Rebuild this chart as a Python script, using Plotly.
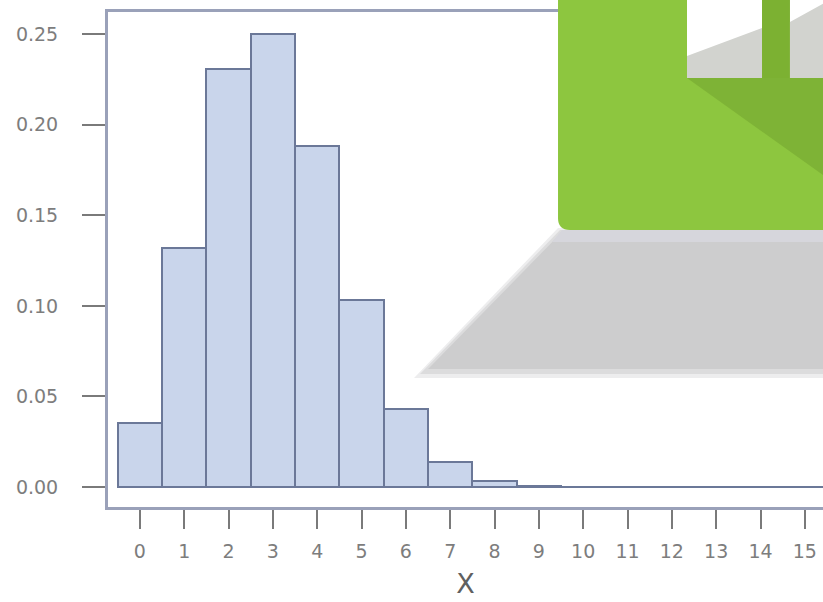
import plotly.graph_objects as go

# ---- data ----
x_values = list(range(16))
probabilities = [0.0352, 0.132, 0.231, 0.250, 0.188, 0.103, 0.043, 0.0138,
                 0.0035, 0.0007, 0.0001, 0.00003, 0.00003, 0.00003, 0.00003, 0.00003]
x_tick_labels = [str(v) for v in x_values]
y_tick_values = [0.00, 0.05, 0.10, 0.15, 0.20, 0.25]
y_tick_labels = ["0.00", "0.05", "0.10", "0.15", "0.20", "0.25"]
x_title = "X"

W, H = 823, 602
L, T, R, B = 108, 12, 0, 95
pw, ph = W - L - R, H - T - B


def px(x):
    return (x - L) / pw


def py(y):
    return (H - B - y) / ph


fig = go.Figure()
fig.add_trace(go.Bar(
    x=x_values, y=probabilities, width=1.0,
    marker=dict(color="#c9d5eb", line=dict(color="#6b7898", width=2)),
    hoverinfo="x+y",
))

axis_line = "#9aa1b9"
font_family = "DejaVu Sans, Verdana, sans-serif"
tick_font = dict(family=font_family, size=19, color="#7d7d7d")

fig.update_layout(
    width=W, height=H,
    margin=dict(l=L, r=R, t=T, b=B, pad=0),
    plot_bgcolor="white", paper_bgcolor="white",
    showlegend=False,
    bargap=0,
    xaxis=dict(
        range=[-0.72, 15.41],
        tickmode="array", tickvals=x_values, ticktext=x_tick_labels,
        ticks="outside", ticklen=19, tickwidth=2, tickcolor="#7a7a7a",
        showline=True, linecolor=axis_line, linewidth=3, mirror=True,
        showgrid=False, zeroline=False,
        tickfont=tick_font, ticklabelstandoff=6,
        title=dict(text=x_title, font=dict(family=font_family, size=27, color="#606060"),
                   standoff=14),
    ),
    yaxis=dict(
        range=[-0.011, 0.2622],
        tickmode="array", tickvals=y_tick_values, ticktext=y_tick_labels,
        ticks="outside", ticklen=23, tickwidth=2, tickcolor="#7a7a7a",
        showline=True, linecolor=axis_line, linewidth=3, mirror=False,
        showgrid=False, zeroline=False,
        tickfont=tick_font, ticklabelstandoff=20,
    ),
)

# ---- decorative logo overlay (upper right) ----
def poly(points):
    return "M " + " L ".join(f"{px(a):.4f},{py(b):.4f}" for a, b in points) + " Z"

shapes = []
# soft shadow (layered to imitate blur)
shapes.append(dict(type="path", xref="paper", yref="paper", layer="above",
                   path=poly([(558, 228), (830, 228), (830, 378), (414, 378)]),
                   fillcolor="#ededee", line=dict(width=0)))
shapes.append(dict(type="path", xref="paper", yref="paper", layer="above",
                   path=poly([(560, 230), (830, 230), (830, 374), (420, 374)]),
                   fillcolor="#dcdcdd", line=dict(width=0)))
shapes.append(dict(type="path", xref="paper", yref="paper", layer="above",
                   path=poly([(562, 232), (830, 232), (830, 369), (428, 369)]),
                   fillcolor="#cdcdce", line=dict(width=0)))
shapes.append(dict(type="path", xref="paper", yref="paper", layer="above",
                   path=poly([(562, 230), (830, 230), (830, 242), (552, 242)]),
                   fillcolor="#d6d6dc", line=dict(width=0)))
# green rounded block
r = 12
gl, gt, gr, gb = 558, -20, 840, 230
green_path = (f"M {px(gl):.4f},{py(gt):.4f} L {px(gr):.4f},{py(gt):.4f} "
              f"L {px(gr):.4f},{py(gb):.4f} L {px(gl + r):.4f},{py(gb):.4f} "
              f"Q {px(gl):.4f},{py(gb):.4f} {px(gl):.4f},{py(gb - r):.4f} Z")
shapes.append(dict(type="path", xref="paper", yref="paper", layer="above",
                   path=green_path, fillcolor="#8dc63f", line=dict(width=0)))
# darker green diagonal fold
shapes.append(dict(type="path", xref="paper", yref="paper", layer="above",
                   path=poly([(687, 78), (830, 78), (830, 180)]),
                   fillcolor="#7eb336", line=dict(width=0)))
shapes.append(dict(type="path", xref="paper", yref="paper", layer="above",
                   path=poly([(762, -20), (790, -20), (790, 78), (762, 78)]),
                   fillcolor="#7cb132", line=dict(width=0)))
# white squares with gray shading
shapes.append(dict(type="path", xref="paper", yref="paper", layer="above",
                   path=poly([(687, -20), (762, -20), (762, 78), (687, 78)]),
                   fillcolor="#ffffff", line=dict(width=0)))
shapes.append(dict(type="path", xref="paper", yref="paper", layer="above",
                   path=poly([(687, 56), (762, 28), (762, 78), (687, 78)]),
                   fillcolor="#d2d3cf", line=dict(width=0)))
shapes.append(dict(type="path", xref="paper", yref="paper", layer="above",
                   path=poly([(790, -20), (830, -20), (830, 78), (790, 78)]),
                   fillcolor="#ffffff", line=dict(width=0)))
shapes.append(dict(type="path", xref="paper", yref="paper", layer="above",
                   path=poly([(790, 22), (830, 0), (830, 78), (790, 78)]),
                   fillcolor="#d2d3cf", line=dict(width=0)))
fig.update_layout(shapes=shapes)

fig.write_html(
    "out.html",
    config={"displayModeBar": False},
    post_script="document.body.style.margin='0';document.body.style.overflow='hidden';",
)
